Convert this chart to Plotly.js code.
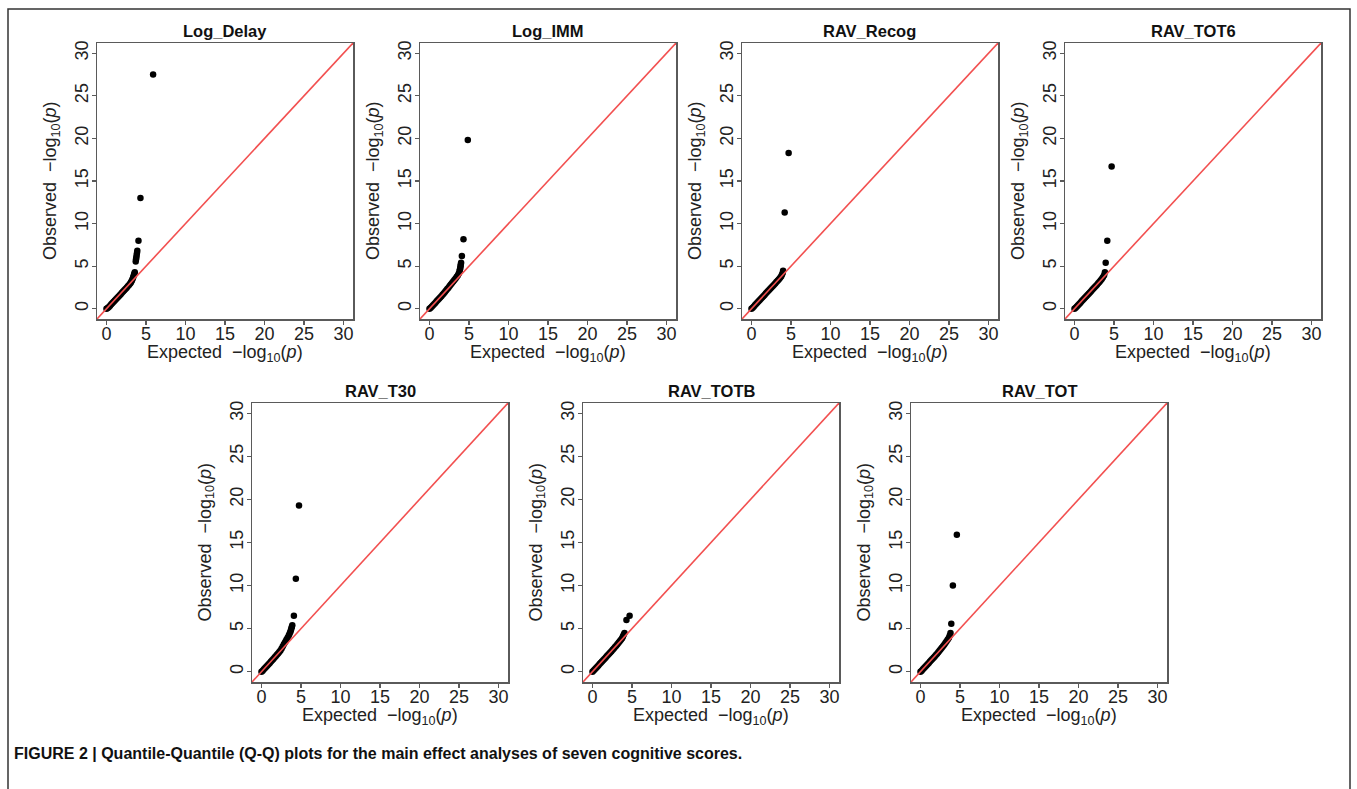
<!DOCTYPE html>
<html>
<head>
<meta charset="utf-8">
<script src="https://cdn.plot.ly/plotly-3.0.1.min.js"></script>
<style>
  html, body { margin: 0; padding: 0; background: #ffffff; }
  #chart { width: 1357px; height: 789px; }
</style>
</head>
<body>
<div id="chart"></div>
<script>
// ---------- DATA ----------
const panelNames = ['Log_Delay', 'Log_IMM', 'RAV_Recog', 'RAV_TOT6', 'RAV_T30', 'RAV_TOTB', 'RAV_TOT'];

const logDelayX = [0.00,0.15,0.30,0.45,0.60,0.75,0.90,1.05,1.20,1.35,1.50,1.65,1.80,1.95,2.10,2.25,2.40,2.55,2.70,2.85,3.00,3.10,3.20,3.30,3.38,3.45,3.52,3.58,3.70,3.74,3.78,3.82,3.86,3.90,4.05,4.30,5.90];
const logDelayY = [0.00,0.08,0.22,0.37,0.52,0.67,0.82,0.97,1.12,1.27,1.42,1.57,1.72,1.87,2.02,2.17,2.32,2.48,2.64,2.80,2.97,3.12,3.30,3.50,3.70,3.90,4.10,4.30,5.55,5.80,6.05,6.30,6.55,6.80,8.00,13.00,27.50];

const logImmX = [0.00,0.15,0.30,0.45,0.60,0.75,0.90,1.05,1.20,1.35,1.50,1.65,1.80,1.95,2.10,2.25,2.40,2.55,2.70,2.85,3.00,3.15,3.30,3.45,3.60,3.70,3.80,3.85,3.90,3.93,3.96,4.00,4.10,4.30,4.85];
const logImmY = [0.00,0.12,0.27,0.42,0.57,0.72,0.87,1.02,1.17,1.32,1.48,1.64,1.80,1.97,2.14,2.31,2.48,2.66,2.84,3.02,3.20,3.38,3.56,3.75,3.95,4.15,4.40,4.60,4.80,5.00,5.20,5.40,6.20,8.15,19.80];

const ravRecogX = [0.00,0.15,0.30,0.45,0.60,0.75,0.90,1.05,1.20,1.35,1.50,1.65,1.80,1.95,2.10,2.25,2.40,2.55,2.70,2.85,3.00,3.15,3.30,3.45,3.60,3.75,3.85,3.95,4.00,4.20,4.70];
const ravRecogY = [0.00,0.13,0.28,0.43,0.58,0.73,0.88,1.03,1.18,1.33,1.48,1.63,1.78,1.93,2.08,2.23,2.38,2.53,2.68,2.83,2.98,3.13,3.28,3.45,3.62,3.80,4.00,4.20,4.45,11.30,18.30];

const ravTot6X = [0.00,0.15,0.30,0.45,0.60,0.75,0.90,1.05,1.20,1.35,1.50,1.65,1.80,1.95,2.10,2.25,2.40,2.55,2.70,2.85,3.00,3.15,3.30,3.45,3.60,3.75,3.85,3.95,4.15,4.70];
const ravTot6Y = [0.00,0.12,0.27,0.42,0.57,0.72,0.87,1.02,1.17,1.32,1.47,1.62,1.77,1.92,2.07,2.22,2.37,2.52,2.67,2.83,2.99,3.15,3.32,3.50,3.70,3.95,4.30,5.40,8.00,16.70];

const ravT30X = [0.00,0.15,0.30,0.45,0.60,0.75,0.90,1.05,1.20,1.35,1.50,1.65,1.80,1.95,2.10,2.25,2.40,2.55,2.70,2.85,3.00,3.15,3.30,3.45,3.55,3.65,3.72,3.78,3.84,3.90,4.10,4.35,4.75];
const ravT30Y = [0.00,0.12,0.27,0.42,0.57,0.72,0.87,1.02,1.17,1.32,1.48,1.64,1.80,1.96,2.12,2.28,2.45,2.70,2.95,3.20,3.45,3.70,3.95,4.20,4.40,4.60,4.80,5.00,5.20,5.40,6.50,10.80,19.30];

const ravTotbX = [0.00,0.15,0.30,0.45,0.60,0.75,0.90,1.05,1.20,1.35,1.50,1.65,1.80,1.95,2.10,2.25,2.40,2.55,2.70,2.85,3.00,3.15,3.30,3.45,3.60,3.75,3.85,3.95,4.05,4.30,4.70];
const ravTotbY = [0.00,0.13,0.28,0.43,0.58,0.73,0.88,1.03,1.18,1.33,1.48,1.63,1.78,1.93,2.08,2.23,2.38,2.54,2.70,2.86,3.02,3.18,3.35,3.52,3.70,3.88,4.08,4.30,4.50,6.00,6.50];

const ravTotX = [0.00,0.15,0.30,0.45,0.60,0.75,0.90,1.05,1.20,1.35,1.50,1.65,1.80,1.95,2.10,2.25,2.40,2.55,2.70,2.85,3.00,3.15,3.30,3.45,3.60,3.70,3.80,3.90,4.10,4.60];
const ravTotY = [0.00,0.12,0.27,0.42,0.57,0.72,0.87,1.02,1.17,1.32,1.47,1.62,1.77,1.93,2.09,2.25,2.42,2.60,2.78,2.96,3.14,3.33,3.53,3.74,3.95,4.20,4.50,5.55,10.00,15.90];

const expectedSeries = [logDelayX, logImmX, ravRecogX, ravTot6X, ravT30X, ravTotbX, ravTotX];
const observedSeries = [logDelayY, logImmY, ravRecogY, ravTot6Y, ravT30Y, ravTotbY, ravTotY];

const tickVals = [0, 5, 10, 15, 20, 25, 30];
const axisRange = [-1.2, 31.2];
const refLine = [-3, 34];   // y = x reference line (clipped to the plot box)

const captionText = 'FIGURE 2 | Quantile-Quantile (Q-Q) plots for the main effect analyses of seven cognitive scores.';
const xTitleText = 'Expected  \u2212log<sub>10</sub>(<i>p</i>)';
const yTitleText = 'Observed  \u2212log<sub>10</sub>(<i>p</i>)';

// ---------- LAYOUT (pixel geometry) ----------
const W = 1357, H = 789;
const boxes = [
  {l: 97,  t: 43,  b: 319},
  {l: 420, t: 43,  b: 319},
  {l: 742, t: 43,  b: 319},
  {l: 1065,t: 43,  b: 319},
  {l: 252, t: 403, b: 682},
  {l: 583, t: 403, b: 682},
  {l: 911, t: 403, b: 682}
];
const boxW = 256;
const FONT = 'Liberation Sans, Arial, Helvetica, sans-serif';

const traces = [];
const layout = {
  width: W, height: H,
  margin: {l: 0, r: 0, t: 0, b: 0},
  paper_bgcolor: '#ffffff',
  plot_bgcolor: '#ffffff',
  showlegend: false,
  annotations: [],
  shapes: []
};

panelNames.forEach((name, i) => {
  const n = i + 1;
  const xa = 'x' + (i ? n : '');
  const ya = 'y' + (i ? n : '');
  const bx = boxes[i];

  traces.push({
    type: 'scatter', mode: 'markers',
    x: expectedSeries[i], y: observedSeries[i],
    xaxis: xa, yaxis: ya,
    marker: {color: '#000000', size: 6.5},
    hoverinfo: 'x+y'
  });
  traces.push({
    type: 'scatter', mode: 'lines',
    x: refLine, y: refLine,
    xaxis: xa, yaxis: ya,
    line: {color: '#f25050', width: 1.6},
    hoverinfo: 'skip'
  });

  const common = {
    range: axisRange, fixedrange: true,
    showgrid: false, zeroline: false,
    showline: true, mirror: true, linecolor: '#5a5a5a', linewidth: 1.5,
    ticks: 'outside', ticklen: 4, tickwidth: 1.2, tickcolor: '#5a5a5a',
    tickmode: 'array', tickvals: tickVals, ticktext: tickVals.map(String),
    tickfont: {family: FONT, size: 18, color: '#222222'}
  };
  layout['xaxis' + (i ? n : '')] = Object.assign({}, common, {
    domain: [bx.l / W, (bx.l + boxW) / W],
    anchor: ya,
    ticklabelstandoff: -6
  });
  layout['yaxis' + (i ? n : '')] = Object.assign({}, common, {
    domain: [1 - bx.b / H, 1 - bx.t / H],
    anchor: xa,
    tickangle: -90,
    ticklabelstandoff: -4
  });

  // panel title
  layout.annotations.push({
    text: '<b>' + name + '</b>', showarrow: false,
    xref: 'paper', yref: 'paper',
    x: (bx.l + boxW / 2) / W, y: 1 - (bx.t - 12) / H,
    xanchor: 'center', yanchor: 'middle',
    font: {family: FONT, size: 16.5, color: '#111111'}
  });
  // x axis title
  layout.annotations.push({
    text: xTitleText, showarrow: false,
    xref: 'paper', yref: 'paper',
    x: (bx.l + boxW / 2) / W, y: 1 - (bx.b + 34) / H,
    xanchor: 'center', yanchor: 'middle',
    font: {family: FONT, size: 18, color: '#222222'}
  });
  // y axis title
  layout.annotations.push({
    text: yTitleText, showarrow: false, textangle: -90,
    xref: 'paper', yref: 'paper',
    x: (bx.l - 46) / W, y: 1 - ((bx.t + bx.b) / 2) / H,
    xanchor: 'center', yanchor: 'middle',
    font: {family: FONT, size: 18, color: '#222222'}
  });
});

// caption
layout.annotations.push({
  text: '<b>' + captionText + '</b>', showarrow: false,
  xref: 'paper', yref: 'paper',
  x: 12 / W, y: 1 - 753 / H,
  xanchor: 'left', yanchor: 'middle',
  font: {family: 'Liberation Sans Narrow, ' + FONT, size: 16, color: '#111111'}
});

// outer frame
layout.shapes.push({
  type: 'rect', xref: 'paper', yref: 'paper',
  x0: 8 / W, x1: 1350 / W, y0: 1 - 9 / H, y1: -0.05,
  line: {color: '#333333', width: 1.5}, fillcolor: 'rgba(0,0,0,0)'
});

Plotly.newPlot('chart', traces, layout, {displayModeBar: false, staticPlot: true});
</script>
</body>
</html>
